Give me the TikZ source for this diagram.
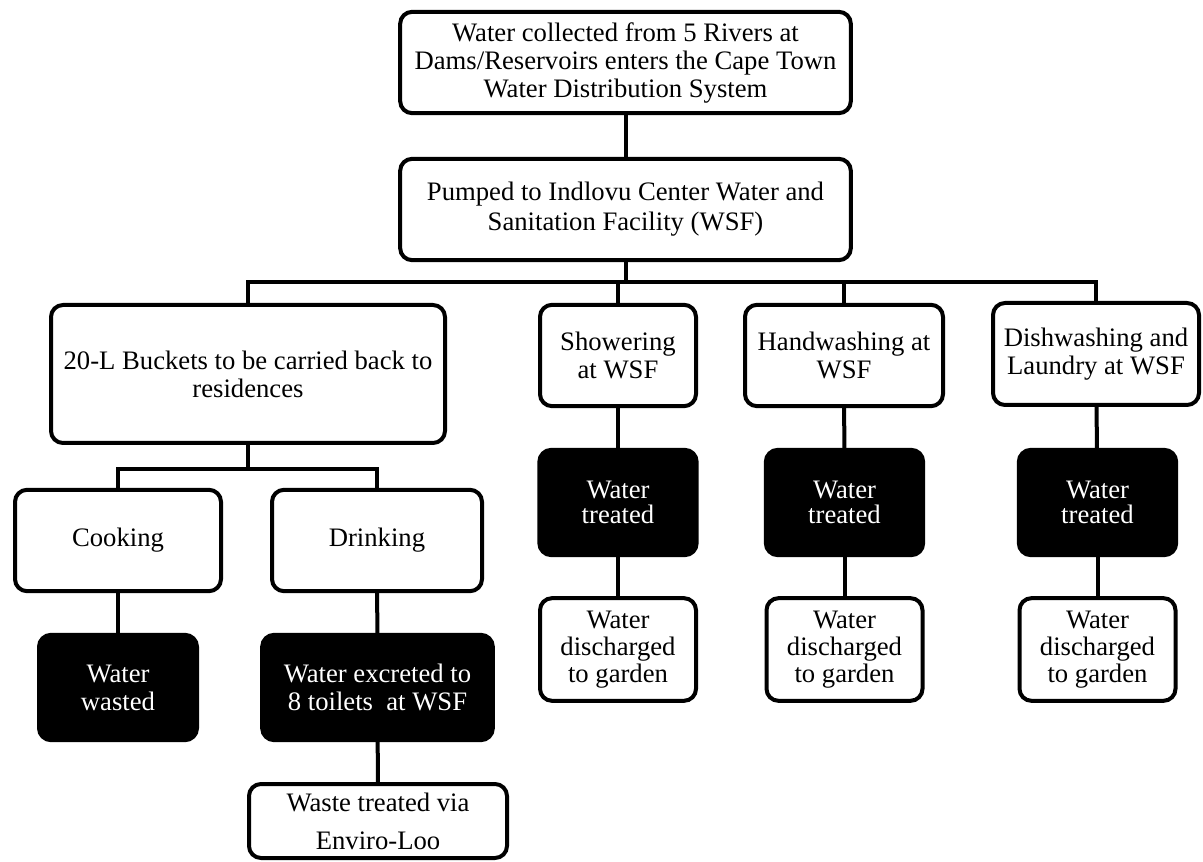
\documentclass[tikz,border=0pt]{standalone}
\usepackage{fontspec}
\setmainfont{Liberation Serif}
\tikzstyle{whiteBox}=[shape = rectangle, draw, line width = 3pt, rounded corners = 9pt, fill = white, align = center, inner sep = 0pt, font = \fontsize{20}{21}\selectfont]
\tikzstyle{blackBox}=[whiteBox, fill = black, text = white]
\tikzstyle{wire}=[line width = 3pt]

\begin{document}
\begin{tikzpicture}[x = 0.75pt, y = -0.75pt]
\useasboundingbox (0,0) rectangle (1203,862);
\tikzstyle{wideBox}=[whiteBox, minimum width = 338pt, minimum height = 76pt]
\tikzstyle{treatBox}=[blackBox, minimum width = 118pt, minimum height = 79pt, font = \fontsize{20}{19}\selectfont]
\tikzstyle{gardenBox}=[whiteBox, minimum width = 117pt, minimum height = 77pt, font = \fontsize{20}{20}\selectfont]
\node[wideBox] (src) at (625.5,62.5) {Water collected from 5 Rivers at\\Dams/Reservoirs enters the Cape Town\\Water Distribution System};
\node[wideBox, font = \fontsize{20}{22.5}\selectfont] (wsf) at (625.5,209.5) {Pumped to Indlovu Center Water and\\Sanitation Facility (WSF)};
\node[whiteBox, minimum width = 295.5pt, minimum height = 103.5pt] (bucket) at (248,374) {20-L Buckets to be carried back to\\residences};
\node[whiteBox, minimum width = 117pt, minimum height = 76pt] (shower) at (618,355.5) {Showering\\at WSF};
\node[whiteBox, minimum width = 148.5pt, minimum height = 76pt] (hand) at (844,355.5) {Handwashing at\\WSF};
\node[whiteBox, minimum width = 154.5pt, minimum height = 76.5pt] (dish) at (1096,354) {Dishwashing and\\Laundry at WSF};
\node[whiteBox, minimum width = 154.5pt, minimum height = 76pt] (cook) at (118,540.5) {Cooking};
\node[whiteBox, minimum width = 157.5pt, minimum height = 76pt] (drink) at (377,540.5) {Drinking};
\node[blackBox, minimum width = 118.5pt, minimum height = 79pt] (wasted) at (118,687.5) {Water\\wasted};
\node[blackBox, minimum width = 173pt, minimum height = 79pt] (excreted) at (377.5,687.5) {Water excreted to\\8 toilets\ \ at WSF};
\node[whiteBox, minimum width = 193.5pt, minimum height = 55.5pt, font = \fontsize{20}{28.5}\selectfont] (enviro) at (378,821) {Waste treated via\\Enviro-Loo};
\node[treatBox] (showerTreated) at (618,502.5) {Water\\treated};
\node[treatBox] (handTreated) at (844.5,502.5) {Water\\treated};
\node[treatBox] (dishTreated) at (1097.5,502.5) {Water\\treated};
\node[gardenBox] (showerGarden) at (618,649.5) {Water\\discharged\\to garden};
\node[gardenBox] (handGarden) at (844.5,649.5) {Water\\discharged\\to garden};
\node[gardenBox] (dishGarden) at (1097.5,649.5) {Water\\discharged\\to garden};
\coordinate (bus) at (627,282);
\coordinate (split) at (248,469);
\draw[wire] (src) -- (wsf);
\draw[wire] (wsf.south) -- (wsf.south |- bus);
\draw[wire] (bucket.north) |- (dish.north |- bus) -- (dish.north);
\draw[wire] (shower.north) -- (shower.north |- bus);
\draw[wire] (hand.north) -- (hand.north |- bus);
\draw[wire] (bucket.south) -- (split);
\draw[wire] (cook.north) |- (split) -| (drink.north);
\draw[wire] (cook) -- (wasted);
\draw[wire] (drink) -- (excreted);
\draw[wire] (excreted) -- (enviro);
\draw[wire] (shower) -- (showerTreated);
\draw[wire] (showerTreated) -- (showerGarden);
\draw[wire] (hand) -- (handTreated);
\draw[wire] (handTreated) -- (handGarden);
\draw[wire] (dish) -- (dishTreated);
\draw[wire] (dishTreated) -- (dishGarden);
\end{tikzpicture}
\end{document}
